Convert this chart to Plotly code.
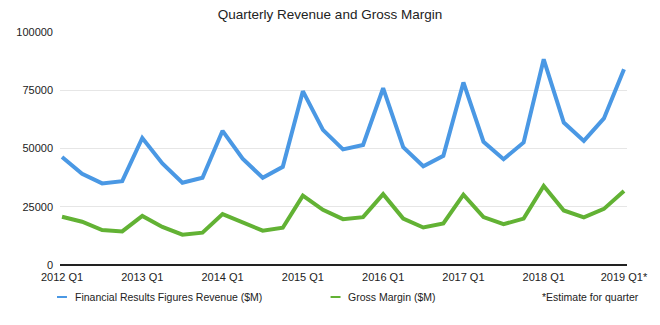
import plotly.graph_objects as go

# Quarterly figures, $M (2012 Q1 .. 2019 Q1; last quarter is an estimate)
quarters = [f"{y} Q{q}" for y in range(2012, 2019) for q in range(1, 5)] + ["2019 Q1"]
revenue = [46333, 39186, 35023, 35966,
           54512, 43603, 35323, 37472,
           57594, 45646, 37432, 42123,
           74599, 58010, 49605, 51501,
           75872, 50557, 42358, 46852,
           78351, 52896, 45408, 52579,
           88293, 61137, 53265, 62900,
           84000]
gross_margin = [20703, 18564, 14994, 14401,
                21060, 16349, 13024, 13871,
                21846, 18498, 14735, 16009,
                29741, 23656, 19681, 20548,
                30423, 19921, 16106, 17813,
                30176, 20591, 17488, 19931,
                33912, 23422, 20421, 24084,
                31800]
tick_labels = ["2012 Q1", "2013 Q1", "2014 Q1", "2015 Q1",
               "2016 Q1", "2017 Q1", "2018 Q1", "2019 Q1*"]
y_ticks = [0, 25000, 50000, 75000, 100000]

series_names = ["Financial Results Figures Revenue ($M)", "Gross Margin ($M)"]
blue = "#4A98E4"
green = "#62B234"
font_family = "Liberation Sans, Arial, sans-serif"

# plot-area geometry in pixels (used to place the hand-drawn legend row)
W, H = 660, 325
L, R, T, B = 60, 30, 32, 60
plot_w, plot_h = W - L - R, H - T - B

x = list(range(len(quarters)))

fig = go.Figure()
fig.add_trace(go.Scatter(x=x, y=revenue, mode="lines", name=series_names[0],
                         line=dict(color=blue, width=4), text=quarters))
fig.add_trace(go.Scatter(x=x, y=gross_margin, mode="lines", name=series_names[1],
                         line=dict(color=green, width=4), text=quarters))

fig.update_layout(
    width=W, height=H,
    margin=dict(l=L, r=R, t=T, b=B),
    paper_bgcolor="white", plot_bgcolor="white",
    showlegend=False,
    font=dict(family=font_family, size=11, color="#222"),
    title=dict(text="Quarterly Revenue and Gross Margin", x=0.5, xanchor="center",
               y=1 - 14 / H, yanchor="middle",
               font=dict(size=13.5, color="#222", family=font_family)),
    xaxis=dict(range=[-0.1, 28.15], tickmode="array",
               tickvals=list(range(0, 29, 4)), ticktext=tick_labels,
               showgrid=False, zeroline=False, showline=False, ticks="",
               ticklabelstandoff=4,
               tickfont=dict(size=11, color="#222")),
    yaxis=dict(range=[0, 100000], tickvals=y_ticks, ticktext=[str(v) for v in y_ticks],
               showgrid=True, gridcolor="#e6e6e6", gridwidth=1,
               zeroline=True, zerolinecolor="#222", zerolinewidth=1.5,
               showline=False, ticks="", ticklabelstandoff=6,
               tickfont=dict(size=11, color="#222")),
)


def px_x(px):
    return (px - L) / plot_w


def px_y(py):
    return (H - B - py) / plot_h


# Legend row drawn beneath the plot
legend_y = px_y(297)
legend_items = [(57, series_names[0], blue), (332, series_names[1], green)]
for px, label, color in legend_items:
    fig.add_shape(type="line", xref="paper", yref="paper",
                  x0=px_x(px), x1=px_x(px + 10),
                  y0=legend_y, y1=legend_y, line=dict(color=color, width=2))
    fig.add_annotation(xref="paper", yref="paper", x=px_x(px + 16), y=legend_y,
                       text=label, showarrow=False, xanchor="left", yanchor="middle",
                       font=dict(size=10.5, color="#222"))
fig.add_annotation(xref="paper", yref="paper", x=px_x(543), y=legend_y,
                   text="*Estimate for quarter", showarrow=False,
                   xanchor="left", yanchor="middle",
                   font=dict(size=10.5, color="#222"))

fig.write_html("out.html")
